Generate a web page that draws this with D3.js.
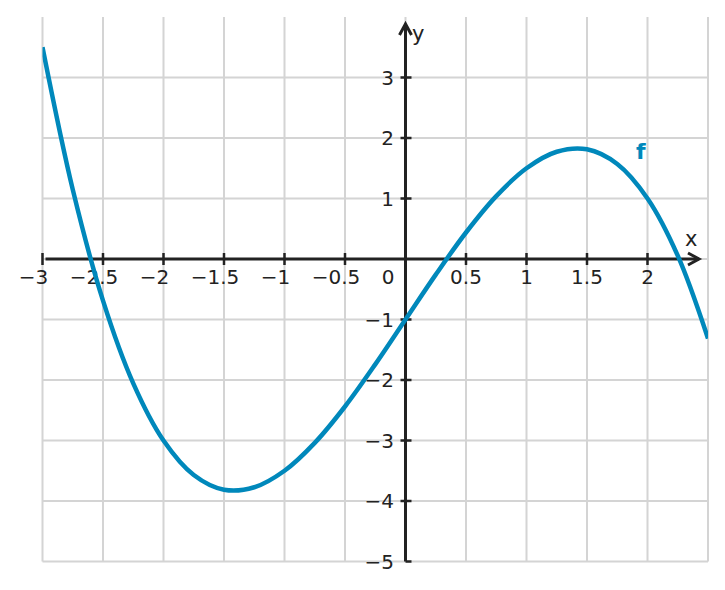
<!DOCTYPE html>
<html><head><meta charset="utf-8">
<script src="https://cdn.jsdelivr.net/npm/d3@7"></script>
<style>body{margin:0;background:#fff}svg{display:block}text{font-family:"DejaVu Sans",sans-serif}</style>
</head><body>
<svg id="c" width="725" height="590"></svg>
<script>
const xs = [-3,-2.75,-2.5,-2.25,-2,-1.75,-1.5,-1.25,-1,-0.75,-0.5,-0.25,0,0.25,0.5,0.75,1,1.25,1.5,1.75,2,2.25,2.5];
const ys = [3.5,1.148,-0.688,-2.055,-3,-3.57,-3.813,-3.773,-3.5,-3.039,-2.438,-1.742,-1,-0.258,0.438,1.039,1.5,1.773,1.813,1.57,1,0.055,-1.313];
const xTicks = [-3,-2.5,-2,-1.5,-1,-0.5,0.5,1,1.5,2];
const xTickLabels = ["−3","−2.5","−2","−1.5","−1","−0.5","0.5","1","1.5","2"];
const yTicks = [-5,-4,-3,-2,-1,1,2,3];
const yTickLabels = ["−5","−4","−3","−2","−1","1","2","3"];
const xGrid = [-3,-2.5,-2,-1.5,-1,-0.5,0,0.5,1,1.5,2,2.5];
const yGrid = [-5,-4,-3,-2,-1,0,1,2,3];

const svg = d3.select("#c");
const x = d3.scaleLinear().domain([-3,2.5]).range([42.5,708]);
const y = d3.scaleLinear().domain([-5,4]).range([561.5,17]);
const ink = "#222", blue = "#0088bb", grid = "#d4d4d4";

const g = svg.append("g");
g.selectAll(".vg").data(xGrid).join("line")
  .attr("x1", d=>x(d)).attr("x2", d=>x(d)).attr("y1", y(4)).attr("y2", y(-5))
  .attr("stroke", grid).attr("stroke-width", 2);
g.selectAll(".hg").data(yGrid).join("line")
  .attr("x1", x(-3)).attr("x2", x(2.5)).attr("y1", d=>y(d)).attr("y2", d=>y(d))
  .attr("stroke", grid).attr("stroke-width", 2);

// axes
svg.append("line").attr("x1", x(-3)+3).attr("x2", 699).attr("y1", y(0)).attr("y2", y(0))
  .attr("stroke", ink).attr("stroke-width", 3);
svg.append("path").attr("d", `M688,${y(0)-6}L699,${y(0)}L688,${y(0)+6}`)
  .attr("fill","none").attr("stroke", ink).attr("stroke-width", 3);
svg.append("line").attr("x1", x(0)).attr("x2", x(0)).attr("y1", y(-5)).attr("y2", 24)
  .attr("stroke", ink).attr("stroke-width", 3);
svg.append("path").attr("d", `M${x(0)-6},35L${x(0)},24L${x(0)+6},35`)
  .attr("fill","none").attr("stroke", ink).attr("stroke-width", 3);

// ticks
svg.selectAll(".xt").data(xTicks).join("line")
  .attr("x1", d=>x(d)).attr("x2", d=>x(d)).attr("y1", y(0)-6).attr("y2", y(0)+6)
  .attr("stroke", ink).attr("stroke-width", 2.5);
svg.selectAll(".yt").data(yTicks).join("line")
  .attr("x1", d=> d===-5 ? x(0) : x(0)-5).attr("x2", x(0)+6).attr("y1", d=>y(d)).attr("y2", d=>y(d))
  .attr("stroke", ink).attr("stroke-width", 2.5);

svg.selectAll(".xl").data(xTicks).join("text")
  .attr("x", d=>x(d) - (d<0 ? 9 : 0)).attr("y", 284).attr("text-anchor","middle")
  .attr("font-size", 20).attr("fill", ink).text((d,i)=>xTickLabels[i]);
svg.selectAll(".yl").data(yTicks).join("text")
  .attr("x", 394).attr("y", d=>y(d)).attr("dy","0.36em").attr("text-anchor","end")
  .attr("font-size", 20).attr("fill", ink).text((d,i)=>yTickLabels[i]);
svg.append("text").attr("x", 388).attr("y", 284).attr("text-anchor","middle")
  .attr("font-size", 20).attr("fill", ink).text("0");
svg.append("text").attr("x", 685).attr("y", 246).attr("font-size", 21).attr("fill", ink).text("x");
svg.append("text").attr("x", 412).attr("y", 41).attr("font-size", 21).attr("fill", ink).text("y");

// curve
svg.append("clipPath").attr("id","cp").append("rect")
  .attr("x", x(-3)).attr("y", y(4)).attr("width", x(2.5)-x(-3)).attr("height", y(-5)-y(4));
const data = xs.map((v,i)=>[v, ys[i]]);
svg.append("path").datum(data).attr("clip-path","url(#cp)")
  .attr("d", d3.line().x(d=>x(d[0])).y(d=>y(d[1])).curve(d3.curveCatmullRom.alpha(0.5)))
  .attr("fill","none").attr("stroke", blue).attr("stroke-width", 4.5);
svg.append("text").attr("x", 636).attr("y", 159).attr("font-size", 22).attr("font-weight","bold")
  .attr("fill", blue).text("f");
</script>
</body></html>
